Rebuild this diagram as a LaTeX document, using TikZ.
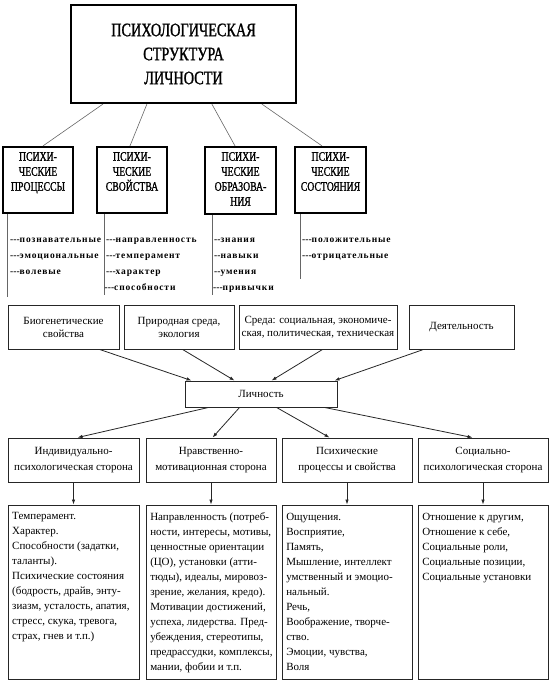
\documentclass[tikz,border=0pt]{standalone}
\usepackage{fontspec}
\setmainfont{Liberation Serif}
\newfontfamily\headfont[FakeStretch=0.75,FakeBold=1.2]{Liberation Serif}
\newfontfamily\listfont[LetterSpace=9]{Liberation Serif}
\usetikzlibrary{positioning,arrows.meta}
\newcommand\hy{\mbox{-}}
\begin{document}
\begin{tikzpicture}[x=1pt, y=-1pt,
        >={Latex[length=5pt,width=3.5pt]},
        topbox/.style={draw, line width=2.2pt, inner sep=0pt},
        headtext/.style={font=\headfont\fontsize{13}{15}\selectfont, align=center, inner sep=0pt},
        twig/.style={draw=black!60, line width=0.6pt},
        item/.style={anchor=base west, inner sep=0pt, font=\listfont\bfseries\fontsize{9.5}{9.5}\selectfont},
        lbox/.style={draw=black!85, line width=0.9pt, inner sep=0pt},
        ltext/.style={font=\fontsize{11}{15}\selectfont, align=left, inner sep=0pt},
        link/.style={->, draw=black!85, line width=0.8pt}
        ]
        \useasboundingbox (0,0) rectangle (554,690);

        % psychological structure
        \node[topbox, minimum width=225pt, minimum height=98pt, align=center,
              font=\headfont\fontsize{19}{24}\selectfont] (struct) at (183.5,54)
              {ПСИХОЛОГИЧЕСКАЯ\\СТРУКТУРА\\ЛИЧНОСТИ};

        \node[topbox, minimum width=70pt, minimum height=66pt] (proc) at (38,180) {};
        \node[headtext, below=6pt of proc.north] {ПСИХИ-\\ЧЕСКИЕ\\ПРОЦЕССЫ};
        \node[topbox, minimum width=70pt, minimum height=66pt] (prop) at (132,180) {};
        \node[headtext, below=6pt of prop.north] {ПСИХИ-\\ЧЕСКИЕ\\СВОЙСТВА};
        \node[topbox, minimum width=71pt, minimum height=67pt] (form) at (240.5,180.5) {};
        \node[headtext, below=6pt of form.north] {ПСИХИ-\\ЧЕСКИЕ\\ОБРАЗОВА-\\НИЯ};
        \node[topbox, minimum width=71pt, minimum height=66pt] (state) at (330.5,180) {};
        \node[headtext, below=6pt of state.north] {ПСИХИ-\\ЧЕСКИЕ\\СОСТОЯНИЯ};

        \draw[twig] ([xshift=33pt]struct.south west) -- ([xshift=5pt]proc.north);
        \draw[twig] ([xshift=77pt]struct.south west) -- ([xshift=-2pt]prop.north);
        \draw[twig] ([xshift=142pt]struct.south west) -- ([xshift=-5.5pt]form.north);
        \draw[twig] ([xshift=192pt]struct.south west) -- ([xshift=-8.5pt]state.north);

        \coordinate (procend) at (7,297);
        \coordinate (propend) at (104,295);
        \coordinate (formend) at (212,295);
        \coordinate (stateend) at (300,279);
        \draw[twig] (proc.south -| procend) -- (procend);
        \draw[twig] (prop.south -| propend) -- (propend);
        \draw[twig] (form.south -| formend) -- (formend);
        \draw[twig] (state.south -| stateend) -- (stateend);

        \node[item] (proc1) at (10,242.5) {\hy\hy\hy познавательные};
        \node[below=16pt of proc1.base west, item] (proc2) {\hy\hy\hy эмоциональные};
        \node[below=16pt of proc2.base west, item] (proc3) {\hy\hy\hy волевые};

        \node[item] (prop1) at (106,242.5) {\hy\hy\hy направленность};
        \node[below=16pt of prop1.base west, item] (prop2) {\hy\hy\hy темперамент};
        \node[below=16pt of prop2.base west, item] (prop3) {\hy\hy\hy характер};
        \node[below=16pt of prop3.base west, xshift=-1.5pt, item] (prop4) {\hy\hy\hy способности};

        \node[item] (form1) at (214,242.5) {\hy\hy знания};
        \node[below=16pt of form1.base west, item] (form2) {\hy\hy навыки};
        \node[below=16pt of form2.base west, item] (form3) {\hy\hy умения};
        \node[below=16pt of form3.base west, xshift=-1pt, item] (form4) {\hy\hy\hy привычки};

        \node[item] (state1) at (302,242.5) {\hy\hy\hy положительные};
        \node[below=16pt of state1.base west, item] (state2) {\hy\hy\hy отрицательные};

        % personality
        \node[lbox, minimum width=111pt, minimum height=44pt, align=center,
              font=\fontsize{11}{13}\selectfont] (bio) at (63.5,327) {Биогенетические\\свойства};
        \node[lbox, minimum width=110pt, minimum height=44pt, align=center,
              font=\fontsize{11}{13}\selectfont] (nature) at (179,327) {Природная среда,\\экология};
        \node[lbox, minimum width=158pt, minimum height=44pt, align=center,
              font=\fontsize{11}{13}\selectfont] (milieu) at (318,327) {Среда: социальная, экономиче-\\ская, политическая, техническая};
        \node[lbox, minimum width=105pt, minimum height=44pt, align=center,
              font=\fontsize{11}{13}\selectfont] (activ) at (461.5,327) {Деятельность};

        \node[lbox, minimum width=152pt, minimum height=26pt,
              font=\fontsize{11}{13}\selectfont] (lich) at (261,394) {Личность};

        \draw[link] ([xshift=92pt]bio.south west) -- ([xshift=7pt]lich.north west);
        \draw[link] ([xshift=59pt]nature.south west) -- ([xshift=50pt]lich.north west);
        \draw[link] ([xshift=84pt]milieu.south west) -- ([xshift=87pt]lich.north west);
        \draw[link] ([xshift=15pt]activ.south west) -- ([xshift=150pt]lich.north west);

        \node[lbox, minimum width=131pt, minimum height=44pt, align=center,
              font=\fontsize{11}{16}\selectfont] (indiv) at (73.5,460) {Индивидуально-\\психологическая сторона};
        \node[lbox, minimum width=130pt, minimum height=44pt, align=center,
              font=\fontsize{11}{16}\selectfont] (moral) at (211,460) {Нравственно-\\мотивационная сторона};
        \node[lbox, minimum width=130pt, minimum height=44pt, align=center,
              font=\fontsize{11}{16}\selectfont] (psych) at (347,460) {Психические\\процессы и свойства};
        \node[lbox, minimum width=130pt, minimum height=44pt, align=center,
              font=\fontsize{11}{16}\selectfont] (social) at (483,460) {Социально-\\психологическая сторона};

        \draw[link] ([xshift=24pt]lich.south west) -- ([xshift=70pt]indiv.north west);
        \draw[link] ([xshift=55pt]lich.south west) -- ([xshift=67pt]moral.north west);
        \draw[link] ([xshift=92pt]lich.south west) -- ([xshift=48pt]psych.north west);
        \draw[link] ([xshift=140pt]lich.south west) -- ([xshift=55pt]social.north west);

        \node[lbox, minimum width=131pt, minimum height=174pt] (indivlist) at (73.5,592) {};
        \node[lbox, minimum width=130pt, minimum height=174pt] (morallist) at (211,592) {};
        \node[lbox, minimum width=130pt, minimum height=174pt] (psychlist) at (347,592) {};
        \node[lbox, minimum width=130pt, minimum height=174pt] (sociallist) at (483,592) {};

        \draw[link] (indiv) -- (indivlist);
        \draw[link] (moral) -- (morallist);
        \draw[link] (psych) -- (psychlist);
        \draw[link] (social) -- (sociallist);

        \node[ltext, below right=8pt and 4.5pt of indivlist.north west] {Темперамент.\\Характер.\\Способности (задатки,\\таланты).\\Психические состояния\\(бодрость, драйв, энту-\\зиазм, усталость, апатия,\\стресс, скука, тревога,\\страх, гнев и т.п.)};
        \node[ltext, below right=8pt and 4.5pt of morallist.north west] {Направленность (потреб-\\ности, интересы, мотивы,\\ценностные ориентации\\(ЦО), установки (атти-\\тюды), идеалы, мировоз-\\зрение, желания, кредо).\\Мотивации достижений,\\успеха, лидерства. Пред-\\убеждения, стереотипы,\\предрассудки, комплексы,\\мании, фобии и т.п.};
        \node[ltext, below right=8pt and 4.5pt of psychlist.north west] {Ощущения.\\Восприятие,\\Память,\\Мышление, интеллект\\умственный и эмоцио-\\нальный.\\Речь,\\Воображение, творче-\\ство.\\Эмоции, чувства,\\Воля};
        \node[ltext, below right=8pt and 4.5pt of sociallist.north west] {Отношение к другим,\\Отношение к себе,\\Социальные роли,\\Социальные позиции,\\Социальные установки};
\end{tikzpicture}
\end{document}
